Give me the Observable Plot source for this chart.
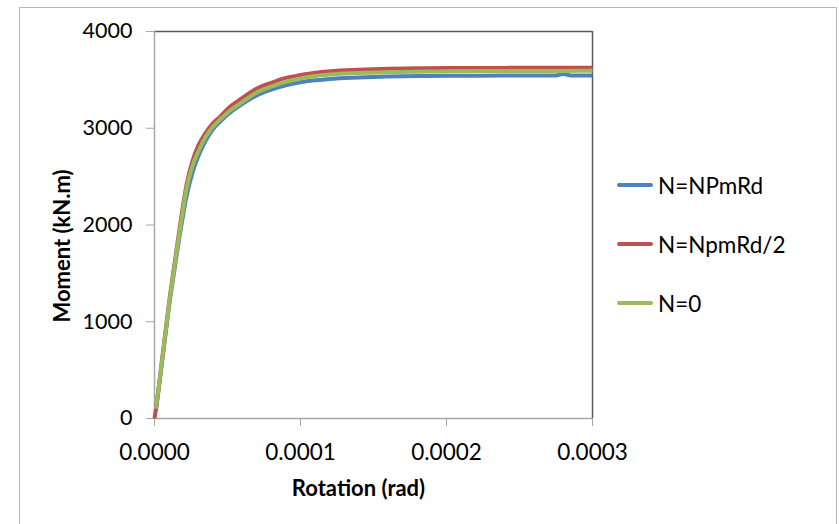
<!DOCTYPE html>
<html>
<head>
<meta charset="utf-8">
<script src="https://cdn.jsdelivr.net/npm/d3@7"></script>
<script src="https://cdn.jsdelivr.net/npm/@observablehq/plot@0.6"></script>
<style>
  html, body { margin: 0; padding: 0; background: #fff; }
  body { position: relative; width: 839px; height: 524px; overflow: hidden; font-family: Lato, "Open Sans", sans-serif; }
  #frame { position: absolute; left: 19px; top: 7px; width: 818px; height: 540px; border: 1px solid #b8b8b8; box-sizing: border-box; }
  #chart { position: absolute; left: 0; top: 0; }
  #legend { position: absolute; left: 617px; top: 0; }
  .item { position: absolute; left: 0; display: flex; align-items: center; white-space: nowrap; font-size: 22.5px; color: #000; }
  .swatch { width: 36px; height: 4px; border-radius: 2px; margin-right: 5px; }
</style>
</head>
<body>
<div id="frame"></div>
<div id="chart"></div>
<div id="legend"></div>
<script>
// Data (rotation in rad, moment in kN.m)
const seriesNames = ["N=NPmRd", "N=NpmRd/2", "N=0"];
const seriesColors = ["#4F81BD", "#C0504D", "#9BBB59"];

const rotBlue = [0.000001, 0.000006, 0.00001, 0.000014, 0.000018, 0.000022, 0.000026, 0.00003, 0.000035, 0.00004, 0.000045, 0.00005, 0.00006, 0.00007, 0.00008, 0.00009, 0.0001, 0.00011, 0.00012, 0.00014, 0.00016, 0.00018, 0.0002, 0.00024, 0.000275, 0.00028, 0.000285, 0.0003];
const momBlue = [80, 680, 1160, 1570, 1960, 2300, 2540, 2710, 2870, 2990, 3070, 3140, 3250, 3340, 3400, 3445, 3475, 3495, 3510, 3525, 3535, 3540, 3542, 3544, 3545, 3562, 3545, 3545];

const rotRed = [0, 0.000001, 0.000006, 0.00001, 0.000014, 0.000018, 0.000022, 0.000026, 0.00003, 0.000035, 0.00004, 0.000045, 0.00005, 0.00006, 0.00007, 0.00008, 0.00009, 0.0001, 0.00011, 0.00012, 0.00014, 0.00016, 0.00018, 0.0002, 0.00024, 0.00028, 0.0003];
const momRed = [0, 100, 710, 1200, 1630, 2050, 2420, 2660, 2820, 2950, 3050, 3120, 3200, 3310, 3410, 3470, 3520, 3550, 3575, 3590, 3605, 3615, 3620, 3622, 3624, 3625, 3625];

const rotGreen = [0.000001, 0.000006, 0.00001, 0.000014, 0.000018, 0.000022, 0.000026, 0.00003, 0.000035, 0.00004, 0.000045, 0.00005, 0.00006, 0.00007, 0.00008, 0.00009, 0.0001, 0.00011, 0.00012, 0.00014, 0.00016, 0.00018, 0.0002, 0.00024, 0.00028, 0.0003];
const momGreen = [100, 700, 1180, 1600, 2010, 2380, 2610, 2760, 2910, 3015, 3090, 3160, 3270, 3370, 3430, 3480, 3515, 3540, 3555, 3570, 3580, 3585, 3590, 3592, 3593, 3594];

const xTicks = [0, 0.0001, 0.0002, 0.0003];
const yTicks = [0, 1000, 2000, 3000, 4000];
const xTitle = "Rotation (rad)";
const yTitle = "Moment (kN.m)";

const toRows = (rots, moms, name) => rots.map((r, i) => ({rot: r, mom: moms[i], series: name}));
const series = [
  toRows(rotBlue, momBlue, seriesNames[0]),
  toRows(rotRed, momRed, seriesNames[1]),
  toRows(rotGreen, momGreen, seriesNames[2])
];

const chart = Plot.plot({
  width: 839,
  height: 524,
  marginLeft: 154,
  marginTop: 31,
  marginRight: 247,
  marginBottom: 106,
  style: {fontFamily: "Lato, 'Open Sans', sans-serif", fontSize: "22px", color: "#000", background: "transparent"},
  x: {domain: [0, 0.0003], label: null},
  y: {domain: [0, 4000], label: null},
  marks: [
    Plot.ruleY([4000], {stroke: "#595959", strokeWidth: 1.5}),
    Plot.ruleX([0.0003], {stroke: "#595959", strokeWidth: 1.5}),
    Plot.ruleY([0], {stroke: "#a6a6a6", strokeWidth: 1.5}),
    Plot.ruleX([0], {stroke: "#a6a6a6", strokeWidth: 1.5}),
    Plot.axisX({ticks: xTicks, tickFormat: d => d.toFixed(4), tickSize: 8, tickPadding: 18, stroke: "#a6a6a6", fill: "#000", fontSize: 22.5, label: null}),
    Plot.axisY({ticks: yTicks, tickFormat: d => String(d), tickSize: 8, tickPadding: 14, stroke: "#a6a6a6", fill: "#000", fontSize: 21.5, label: null}),
    ...series.map((rows, i) => Plot.line(rows, {x: "rot", y: "mom", stroke: seriesColors[i], strokeWidth: 4, curve: "monotone-x", strokeLinejoin: "round", strokeLinecap: "butt"})),
    Plot.text([xTitle], {frameAnchor: "bottom", textAnchor: "middle", dx: -15, dy: 77, fontWeight: "bold", fontSize: 22, fill: "#000"}),
    Plot.text([yTitle], {frameAnchor: "left", textAnchor: "middle", dx: -92, dy: 21, rotate: -90, fontWeight: "bold", fontSize: 22, fill: "#000"})
  ]
});
document.getElementById("chart").appendChild(chart);

const legend = document.getElementById("legend");
const legendTops = [185, 244, 303];
seriesNames.forEach((name, i) => {
  const item = document.createElement("div");
  item.className = "item";
  item.style.top = (legendTops[i] - 14) + "px";
  item.style.height = "28px";
  const sw = document.createElement("div");
  sw.className = "swatch";
  sw.style.background = seriesColors[i];
  const label = document.createElement("span");
  label.textContent = name;
  item.appendChild(sw);
  item.appendChild(label);
  legend.appendChild(item);
});
</script>
</body>
</html>
